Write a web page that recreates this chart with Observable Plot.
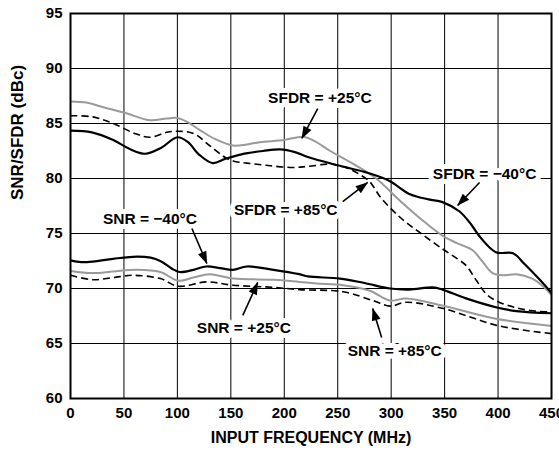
<!DOCTYPE html>
<html>
<head>
<meta charset="utf-8">
<script src="https://cdn.jsdelivr.net/npm/d3@7"></script>
<script src="https://cdn.jsdelivr.net/npm/@observablehq/plot@0.6"></script>
<style>body{margin:0;background:#fff}</style>
</head>
<body>
<div id="chart"></div>
<script>
// Tick values
const xTicks = [0, 50, 100, 150, 200, 250, 300, 350, 400, 450];
const yTicks = [60, 65, 70, 75, 80, 85, 90, 95];

// Series: [input frequency MHz, dBc]
const sfdrMinus40 = [[0,84.35],[20,84.2],[40,83.5],[55,82.7],[70,82.25],[85,82.8],[100,83.75],[110,83.3],[120,82.2],[133,81.4],[145,81.8],[160,82.2],[180,82.5],[196,82.65],[210,82.4],[222,81.95],[250,81.2],[275,80.6],[298,79.8],[317,78.6],[335,78.1],[348,77.85],[364,77.0],[375,75.8],[383,74.7],[398,73.3],[414,73.2],[425,72.2],[438,70.9],[450,69.6]];
const sfdrPlus25 = [[0,87.0],[15,86.9],[30,86.5],[50,86.0],[74,85.3],[90,85.45],[100,85.5],[110,85.1],[121,84.4],[135,83.6],[152,83.0],[165,83.1],[177,83.3],[200,83.5],[218,83.8],[230,83.3],[243,82.5],[265,81.3],[286,80.0],[308,78.0],[328,76.3],[348,74.8],[362,74.1],[376,73.5],[385,72.5],[395,71.4],[405,71.2],[417,71.3],[432,70.9],[442,70.2],[450,69.4]];
const sfdrPlus85 = [[0,85.7],[21,85.6],[40,85.0],[60,84.1],[74,83.75],[90,84.2],[99,84.3],[115,84.1],[130,83.0],[145,81.9],[152,81.6],[165,81.4],[183,81.2],[208,81.0],[222,81.1],[245,81.3],[260,80.9],[270,80.4],[280,79.7],[290,78.3],[308,76.5],[328,75.0],[348,73.6],[362,72.7],[370,72.1],[380,70.7],[389,69.5],[400,68.8],[415,68.3],[430,68.0],[450,67.85]];
const snrMinus40 = [[0,72.55],[10,72.4],[21,72.45],[40,72.7],[62,72.9],[75,72.8],[84,72.5],[95,71.8],[102,71.5],[115,71.7],[127,72.0],[140,71.85],[152,71.7],[165,72.0],[190,71.7],[214,71.3],[222,71.1],[252,70.9],[275,70.5],[299,70.0],[317,69.9],[339,70.1],[348,69.9],[370,69.1],[398,68.3],[417,67.95],[450,67.75]];
const snrPlus25 = [[0,71.6],[21,71.4],[40,71.55],[62,71.7],[84,71.5],[101,70.7],[115,71.0],[130,71.3],[152,70.9],[190,70.8],[214,70.6],[230,70.45],[255,70.3],[280,69.8],[299,68.9],[314,69.1],[348,68.45],[398,67.25],[450,66.6]];
const snrPlus85 = [[0,71.2],[21,70.8],[40,71.0],[59,71.2],[84,70.9],[101,70.2],[127,70.6],[152,70.3],[190,70.1],[214,69.9],[255,69.7],[283,68.9],[299,68.4],[314,68.75],[348,68.2],[401,66.6],[450,65.9]];

// Axis titles
const xTitle = "INPUT FREQUENCY (MHz)";
const yTitle = "SNR/SFDR (dBc)";

// Annotation texts and anchors (data units)
const labelTexts = ["SFDR = +25°C", "SFDR = \u221240°C", "SFDR = +85°C", "SNR = \u221240°C", "SNR = +25°C", "SNR = +85°C"];
const labelAt = [[233.3,87.36],[387.4,80.45],[201.4,77.09],[74.3,76.36],[162.2,66.45],[303.3,64.36]];
const arrowFrom = [[231.3,86.36],[382.7,79.64],[254.7,77.9],[113.6,75.45],[161.2,67.55],[291.1,65.55]];
const arrowTo = [[216.4,83.64],[362.2,77.55],[278.0,79.64],[127.6,72.27],[175.2,70.55],[282.7,68.18]];

const toRows = (arr) => arr.map(([x, y]) => ({x, y}));
const notes = labelTexts.map((t, i) => ({
  text: t, x: labelAt[i][0], y: labelAt[i][1],
  x1: arrowFrom[i][0], y1: arrowFrom[i][1], x2: arrowTo[i][0], y2: arrowTo[i][1]
}));

function filledArrow(color) {
  const ns = "http://www.w3.org/2000/svg";
  const m = document.createElementNS(ns, "marker");
  m.setAttribute("viewBox", "-13 -6 14 12");
  m.setAttribute("markerWidth", "14");
  m.setAttribute("markerHeight", "12");
  m.setAttribute("refX", "0");
  m.setAttribute("refY", "0");
  m.setAttribute("markerUnits", "userSpaceOnUse");
  m.setAttribute("orient", "auto");
  m.setAttribute("overflow", "visible");
  const p = document.createElementNS(ns, "path");
  p.setAttribute("d", "M-12,-4.5L0.5,0L-12,4.5Z");
  p.setAttribute("fill", color);
  p.setAttribute("stroke", "none");
  m.appendChild(p);
  return m;
}

const lineOpts = {x: "x", y: "y", curve: "catmull-rom", strokeLinejoin: "round", strokeLinecap: "butt"};

const chart = Plot.plot({
  width: 559,
  height: 453,
  marginLeft: 70,
  marginRight: 8,
  marginTop: 13,
  marginBottom: 55,
  style: {fontFamily: "'Liberation Sans', Arial, Helvetica, sans-serif", fontSize: "15px", fontWeight: "bold", background: "white", color: "black"},
  x: {domain: [0, 450]},
  y: {domain: [60, 95]},
  marks: [
    Plot.gridX(xTicks, {stroke: "black", strokeOpacity: 1, strokeWidth: 1}),
    Plot.gridY(yTicks, {stroke: "black", strokeOpacity: 1, strokeWidth: 1}),
    Plot.axisX(xTicks, {tickSize: 0, tickPadding: 9, tickFormat: d => String(d), label: null}),
    Plot.axisY(yTicks, {tickSize: 0, tickPadding: 8, tickFormat: d => String(d), label: null}),
    Plot.text([xTitle], {frameAnchor: "bottom", dy: 44, text: d => d, fontSize: 16, fontWeight: "bold", fill: "black"}),
    Plot.text([yTitle], {frameAnchor: "left", dx: -53, dy: -6, rotate: -90, text: d => d, fontSize: 17, fontWeight: "bold", fill: "black"}),
    Plot.line(toRows(sfdrPlus25), {...lineOpts, stroke: "#9a9a9a", strokeWidth: 2}),
    Plot.line(toRows(sfdrPlus85), {...lineOpts, stroke: "black", strokeWidth: 1.6, strokeDasharray: "7,4"}),
    Plot.line(toRows(sfdrMinus40), {...lineOpts, stroke: "black", strokeWidth: 2.2}),
    Plot.line(toRows(snrPlus25), {...lineOpts, stroke: "#9a9a9a", strokeWidth: 2}),
    Plot.line(toRows(snrPlus85), {...lineOpts, stroke: "black", strokeWidth: 1.6, strokeDasharray: "7,4"}),
    Plot.line(toRows(snrMinus40), {...lineOpts, stroke: "black", strokeWidth: 2.2}),
    Plot.text(notes, {x: "x", y: "y", text: "text", fill: "black", stroke: "white", strokeWidth: 10, fontSize: 15.5, fontWeight: "bold"}),
    Plot.link(notes, {x1: "x1", y1: "y1", x2: "x2", y2: "y2", stroke: "black", strokeWidth: 1.6, markerEnd: filledArrow}),
    Plot.frame({stroke: "black", strokeWidth: 2})
  ]
});
document.getElementById("chart").appendChild(chart);
</script>
</body>
</html>
